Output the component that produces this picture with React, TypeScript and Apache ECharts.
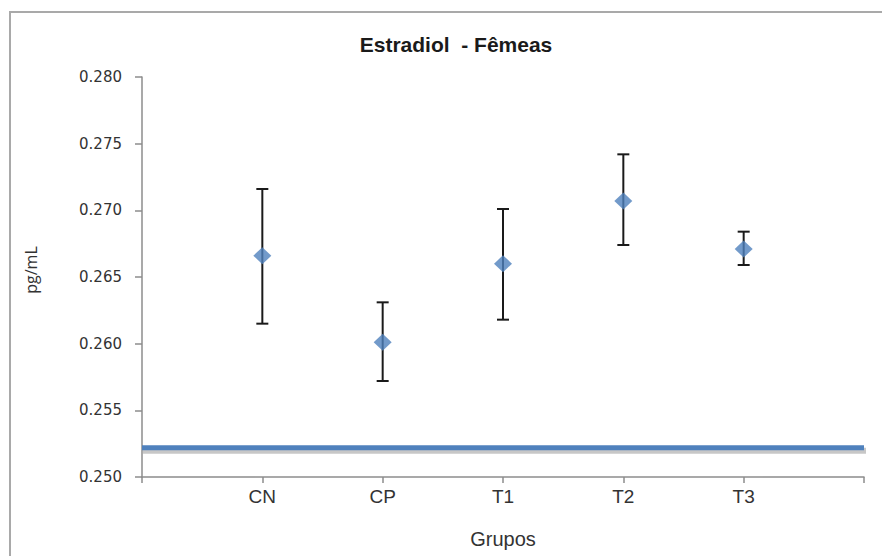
import React, { useEffect, useRef } from "react";
import * as echarts from "echarts";

const categories = ["CN", "CP", "T1", "T2", "T3"];
const means = [0.2666, 0.2601, 0.266, 0.2707, 0.2671];
const lows = [0.2615, 0.2572, 0.2618, 0.2674, 0.2659];
const highs = [0.2716, 0.2631, 0.2701, 0.2742, 0.2684];
const baselineValue = 0.2522;
const baselineSpan = [0, 6];
const yTicks = { min: 0.25, max: 0.28, interval: 0.005 };
const title = "Estradiol  - Fêmeas";
const xName = "Grupos";
const yName = "pg/mL";

export default function App() {
  const ref = useRef<HTMLDivElement>(null);
  useEffect(() => {
    if (!ref.current) return;
    const chart = echarts.init(ref.current, null, { renderer: "svg" });
    const pos = categories.map((_, i) => i + 1);
    chart.setOption({
      animation: false,
      backgroundColor: "#ffffff",
      title: {
        text: title,
        left: 451,
        top: 29,
        textAlign: "center",
        textStyle: {
          fontFamily: "Liberation Sans, Arial, sans-serif",
          fontWeight: "bold",
          fontSize: 21,
          color: "#1a1a1a",
        },
      },
      graphic: [
        {
          type: "rect",
          shape: { x: 10, y: 12, width: 1000, height: 1000 },
          style: { fill: "none", stroke: "#a9a9a9", lineWidth: 2 },
          silent: true,
        },
        {
          type: "text",
          x: 31,
          y: 270,
          rotation: Math.PI / 2,
          style: {
            text: yName,
            fontFamily: "Open Sans, sans-serif",
            fontSize: 16,
            fill: "#333",
            textAlign: "center",
            textVerticalAlign: "middle",
          },
        },
      ],
      grid: { left: 142, top: 77, right: 18, bottom: 79, containLabel: false },
      xAxis: {
        type: "value",
        min: 0,
        max: 6,
        interval: 1,
        name: xName,
        nameLocation: "middle",
        nameGap: 52,
        nameTextStyle: {
          fontFamily: "Liberation Sans, Arial, sans-serif",
          fontSize: 20,
          color: "#333",
        },
        axisLine: { show: true, lineStyle: { color: "#8c8c8c", width: 1.5 } },
        axisTick: { show: true, length: 6, lineStyle: { color: "#8c8c8c", width: 1.5 } },
        splitLine: { show: false },
        axisLabel: {
          margin: 10,
          fontFamily: "Liberation Sans, Arial, sans-serif",
          fontSize: 19,
          color: "#333",
          formatter: (v: number) => categories[Math.round(v) - 1] ?? "",
        },
      },
      yAxis: {
        type: "value",
        min: yTicks.min,
        max: yTicks.max,
        interval: yTicks.interval,
        axisLine: { show: true, lineStyle: { color: "#8c8c8c", width: 1.5 } },
        axisTick: { show: true, length: 7, lineStyle: { color: "#8c8c8c", width: 1.5 } },
        splitLine: { show: false },
        axisLabel: {
          margin: 20,
          fontFamily: "DejaVu Sans, sans-serif",
          fontSize: 15,
          color: "#333",
          formatter: (v: number) => v.toFixed(3),
        },
      },
      series: [
        {
          type: "custom",
          data: [[baselineSpan[0], baselineSpan[1], baselineValue]],
          encode: { x: [0, 1], y: 2 },
          clip: false,
          renderItem: (params: any, api: any) => {
            const a = api.coord([api.value(0), api.value(2)]);
            const b = api.coord([api.value(1), api.value(2)]);
            return {
              type: "group",
              children: [
                {
                  type: "line",
                  shape: { x1: a[0] + 1, y1: a[1] + 3, x2: b[0] + 2, y2: b[1] + 3 },
                  style: { stroke: "rgba(0,0,0,0.22)", lineWidth: 6 },
                },
                {
                  type: "line",
                  shape: { x1: a[0], y1: a[1], x2: b[0], y2: b[1] },
                  style: { stroke: "#4F81BD", lineWidth: 5 },
                },
              ],
            };
          },
          z: 1,
          silent: true,
        },
        {
          type: "custom",
          data: pos.map((x, i) => [x, lows[i], highs[i]]),
          encode: { x: 0, y: [1, 2] },
          renderItem: (params: any, api: any) => {
            const x = api.value(0);
            const lo = api.coord([x, api.value(1)]);
            const hi = api.coord([x, api.value(2)]);
            const cap = 6;
            const style = { stroke: "#1a1a1a", lineWidth: 2 };
            return {
              type: "group",
              children: [
                { type: "line", shape: { x1: lo[0], y1: lo[1], x2: hi[0], y2: hi[1] }, style },
                { type: "line", shape: { x1: lo[0] - cap, y1: lo[1], x2: lo[0] + cap, y2: lo[1] }, style },
                { type: "line", shape: { x1: hi[0] - cap, y1: hi[1], x2: hi[0] + cap, y2: hi[1] }, style },
              ],
            };
          },
          z: 2,
          silent: true,
        },
        {
          type: "scatter",
          data: pos.map((x, i) => [x, means[i]]),
          symbol: "diamond",
          symbolSize: [18, 17],
          itemStyle: { color: "#4F81BD" },
          z: 3,
        },
      ],
    });
    return () => chart.dispose();
  }, []);
  return (
    <div
      ref={ref}
      style={{ position: "absolute", left: 0, top: 0, width: 882, height: 556 }}
    />
  );
}
